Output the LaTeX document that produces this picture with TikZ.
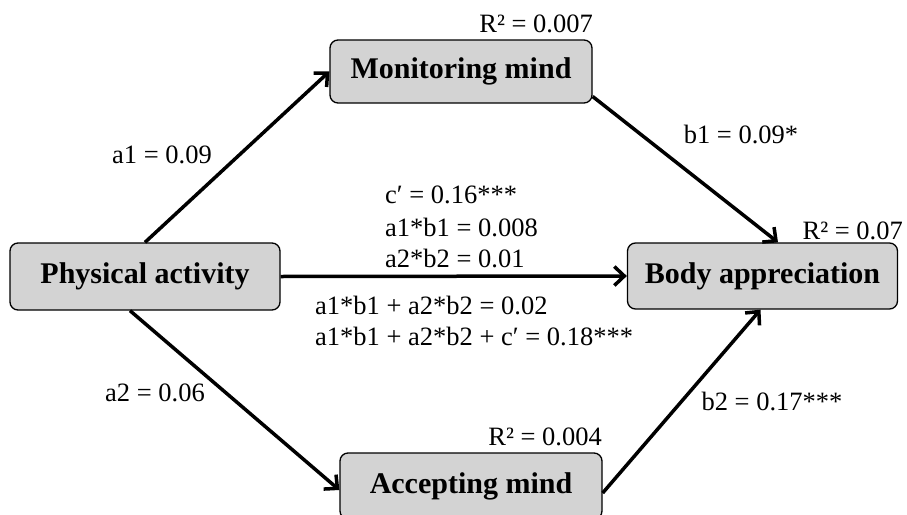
\documentclass[tikz,border=0pt]{standalone}
\usepackage{fontspec}
\setmainfont{Liberation Serif}
\usetikzlibrary{arrows.meta}
\definecolor{boxgray}{RGB}{211,211,211}
\begin{document}
\begin{tikzpicture}[x=1pt,y=-1pt,
  varbox/.style={draw=black, line width=1.3pt, fill=boxgray, rounded corners=8pt,
    font=\fontsize{30}{32}\selectfont\bfseries, inner sep=0pt, anchor=center},
  lbl/.style={font=\fontsize{26.5}{28}\selectfont, inner sep=0pt},
  path/.style={line width=3.5pt, -{Straight Barb[length=10pt,width=19pt,line width=3.5pt]}}
]
\useasboundingbox (0,0) rectangle (907,514);
\node[varbox, minimum width=270pt, minimum height=67pt] (pa) at (145,276.5) {Physical activity};
\node[varbox, minimum width=262pt, minimum height=63pt] (mm) at (461,71.5) {Monitoring mind};
\node[varbox, minimum width=270pt, minimum height=66pt] (ba) at (762.5,276) {Body appreciation};
\node[varbox, minimum width=262pt, minimum height=66pt] (am) at (471,486) {Accepting mind};

\draw[path] (pa.north) -- (mm.west);
\draw[path] ([xshift=-15pt]pa.south) -- ([yshift=-4pt]am.west);
\draw[path] (pa.east) -- (ba.west);
\draw[path] ([yshift=-25pt]mm.east) -- ([xshift=15.5pt]ba.north);
\draw[path] ([yshift=-7pt]am.east) -- ([xshift=-2pt]ba.south);

\node[lbl] (la1) at (162,155) {a1 = 0.09};
\node[lbl] (lb1) at (741,134) {b1 = 0.09*};
\node[lbl] (la2) at (155,393) {a2 = 0.06};
\node[lbl] (lb2) at (772,401) {b2 = 0.17***};
\node[lbl, anchor=east] (r1) at (593,24) {R² = 0.007};
\node[lbl, anchor=east] (r3) at (602,437) {R² = 0.004};
\node[lbl, anchor=east] (r2) at (903,231) {R² = 0.07};
\node[lbl, anchor=west] (c1) at (385,195) {c′ = 0.16***};
\node[lbl, anchor=west] (c2) at (385,227) {a1*b1 = 0.008};
\node[lbl, anchor=west] (c3) at (385,258) {a2*b2 = 0.01};
\node[lbl, anchor=west] (c4) at (315,305) {a1*b1 + a2*b2 = 0.02};
\node[lbl, anchor=west] (c5) at (315,336) {a1*b1 + a2*b2 + c′ = 0.18***};
\end{tikzpicture}
\end{document}
